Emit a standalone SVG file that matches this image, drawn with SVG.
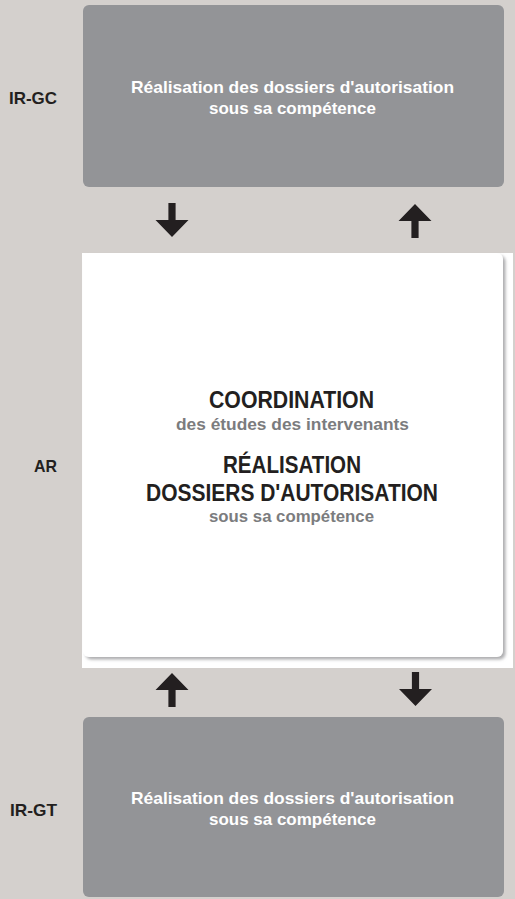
<svg xmlns="http://www.w3.org/2000/svg" width="515" height="899" viewBox="0 0 515 899">
  <style>
    .bg { fill: #d4d0cd; }
    .box { fill: #939497; }
    .lbl { font-family: "Liberation Sans", Arial, sans-serif; font-weight: bold; font-size: 17px; fill: #231f20; text-anchor: end; }
    .boxtxt { font-family: "Liberation Sans", Arial, sans-serif; font-weight: bold; font-size: 17px; fill: #ffffff; text-anchor: middle; }
    .big { font-family: "Liberation Sans", Arial, sans-serif; font-weight: bold; font-size: 23px; fill: #231f20; text-anchor: middle; }
    .sub { font-family: "Liberation Sans", Arial, sans-serif; font-weight: bold; font-size: 17px; fill: #7b7c7e; text-anchor: middle; }
    .arrow { fill: #231f20; }
  </style>
  <defs>
    <filter id="shadow" x="-5%" y="-5%" width="112%" height="112%">
      <feDropShadow dx="2.5" dy="2.5" stdDeviation="1.5" flood-color="#8a8b8e" flood-opacity="0.7"/>
    </filter>
    <path id="down" d="M-3.6,0 H3.6 V17 H16.5 L0,34 L-16.5,17 H-3.6 Z"/>
    <path id="up" d="M0,0 L16.5,17 H3.6 V34 H-3.6 V17 H-16.5 Z"/>
  </defs>

  <rect class="bg" x="0" y="0" width="515" height="899"/>

  <g id="ir-gc">
    <rect class="box" x="83" y="5" width="421" height="182" rx="6"/>
    <text class="lbl" x="57" y="104" textLength="48" lengthAdjust="spacingAndGlyphs">IR-GC</text>
    <text class="boxtxt" x="292.5" y="93" textLength="323" lengthAdjust="spacingAndGlyphs">Réalisation des dossiers d'autorisation</text>
    <text class="boxtxt" x="292.5" y="114" textLength="167" lengthAdjust="spacingAndGlyphs">sous sa compétence</text>
  </g>

  <g id="ar">
    <rect fill="#ffffff" x="82" y="253" width="431" height="415"/>
    <rect fill="#ffffff" x="83" y="253" width="420" height="404" rx="6" filter="url(#shadow)"/>
    <text class="lbl" x="57" y="472" textLength="23" lengthAdjust="spacingAndGlyphs">AR</text>
    <text class="big" x="291.5" y="408" textLength="165" lengthAdjust="spacingAndGlyphs">COORDINATION</text>
    <text class="sub" x="292.5" y="430" textLength="233" lengthAdjust="spacingAndGlyphs">des études des intervenants</text>
    <text class="big" x="292" y="473" textLength="138" lengthAdjust="spacingAndGlyphs">RÉALISATION</text>
    <text class="big" x="292" y="501" textLength="292" lengthAdjust="spacingAndGlyphs">DOSSIERS D'AUTORISATION</text>
    <text class="sub" x="291.5" y="522" textLength="165" lengthAdjust="spacingAndGlyphs">sous sa compétence</text>
  </g>

  <g id="ir-gt">
    <rect class="box" x="83" y="717" width="421" height="180" rx="6"/>
    <text class="lbl" x="57" y="816" textLength="47" lengthAdjust="spacingAndGlyphs">IR-GT</text>
    <text class="boxtxt" x="292.5" y="804" textLength="323" lengthAdjust="spacingAndGlyphs">Réalisation des dossiers d'autorisation</text>
    <text class="boxtxt" x="292.5" y="825" textLength="167" lengthAdjust="spacingAndGlyphs">sous sa compétence</text>
  </g>

  <g id="connectors">
    <use href="#down" class="arrow" x="172" y="203"/>
    <use href="#up" class="arrow" x="415" y="204"/>
    <use href="#up" class="arrow" x="172" y="673"/>
    <use href="#down" class="arrow" x="415.5" y="672"/>
  </g>
</svg>
